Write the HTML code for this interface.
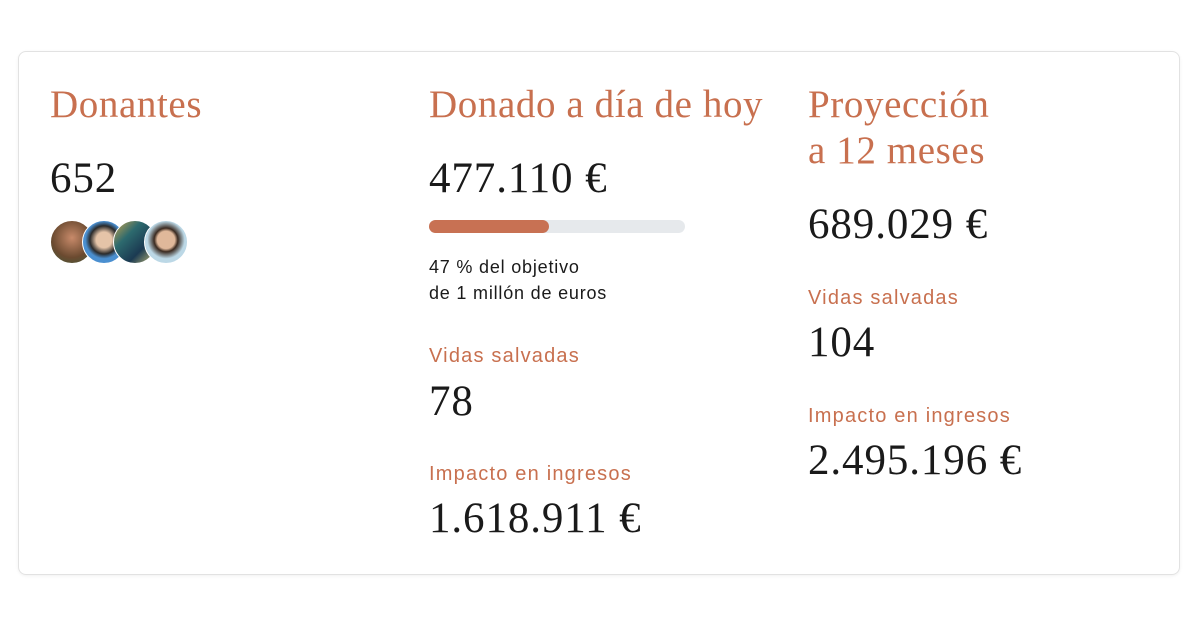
<!DOCTYPE html>
<html><head><meta charset="utf-8"><style>
body{margin:0;width:1200px;height:630px;background:#fff;position:relative;font-family:"Liberation Serif",serif;overflow:hidden}
.card{position:absolute;left:18px;top:51px;width:1162px;height:524px;border:1px solid #e2e2e2;border-radius:8px;box-sizing:border-box;box-shadow:0 1px 3px rgba(0,0,0,.06)}
.t{position:absolute;color:#c8704f;font-size:39px;line-height:46px;white-space:nowrap;letter-spacing:0.6px}
.n{position:absolute;color:#1a1a1a;font-size:43px;line-height:50px;white-space:nowrap;letter-spacing:0.9px}
.l{position:absolute;color:#c8704f;font-family:"Liberation Sans",sans-serif;font-size:20px;letter-spacing:1.2px;white-space:nowrap}
.s{position:absolute;color:#1a1a1a;font-family:"Liberation Sans",sans-serif;font-size:18px;letter-spacing:0.8px;line-height:26px;white-space:nowrap}
.av{position:absolute;top:220px;width:42px;height:42px;border-radius:50%;border:1px solid #fff}
</style></head><body>
<div class="card"></div>
<div class="t" style="left:50px;top:82px">Donantes</div>
<div class="n" style="left:50px;top:154px">652</div>
<div class="av" style="left:50px;background:radial-gradient(circle at 50% 40%,#c88a6a,#6b4a30 60%,#3f5a3a)"></div>
<div class="av" style="left:82px;background:radial-gradient(circle at 50% 45%,#e5c4a8 25%,#2a2a2a 45%,#4a8fd0 60%)"></div>
<div class="av" style="left:113px;background:linear-gradient(135deg,#c9a44d,#2d6a6e,#1b3a52,#c9c27a)"></div>
<div class="av" style="left:144px;background:radial-gradient(circle at 50% 45%,#e0b89a 28%,#3a2a20 38%,#bcd8e6 60%)"></div>

<div class="t" style="left:429px;top:82px">Donado a día de hoy</div>
<div class="n" style="left:429px;top:154px">477.110 €</div>
<div style="position:absolute;left:429px;top:220px;width:256px;height:13px;border-radius:7px;background:#e6e9ec">
<div style="width:120px;height:13px;border-radius:7px;background:#c87153"></div></div>
<div class="s" style="left:429px;top:254px">47 % del objetivo<br>de 1 millón de euros</div>
<div class="l" style="left:429px;top:345px">Vidas salvadas</div>
<div class="n" style="left:429px;top:377px">78</div>
<div class="l" style="left:429px;top:463px">Impacto en ingresos</div>
<div class="n" style="left:429px;top:494px">1.618.911 €</div>

<div class="t" style="left:808px;top:82px">Proyección<br>a 12 meses</div>
<div class="n" style="left:808px;top:200px">689.029 €</div>
<div class="l" style="left:808px;top:287px">Vidas salvadas</div>
<div class="n" style="left:808px;top:318px">104</div>
<div class="l" style="left:808px;top:405px">Impacto en ingresos</div>
<div class="n" style="left:808px;top:436px">2.495.196 €</div>
</body></html>
